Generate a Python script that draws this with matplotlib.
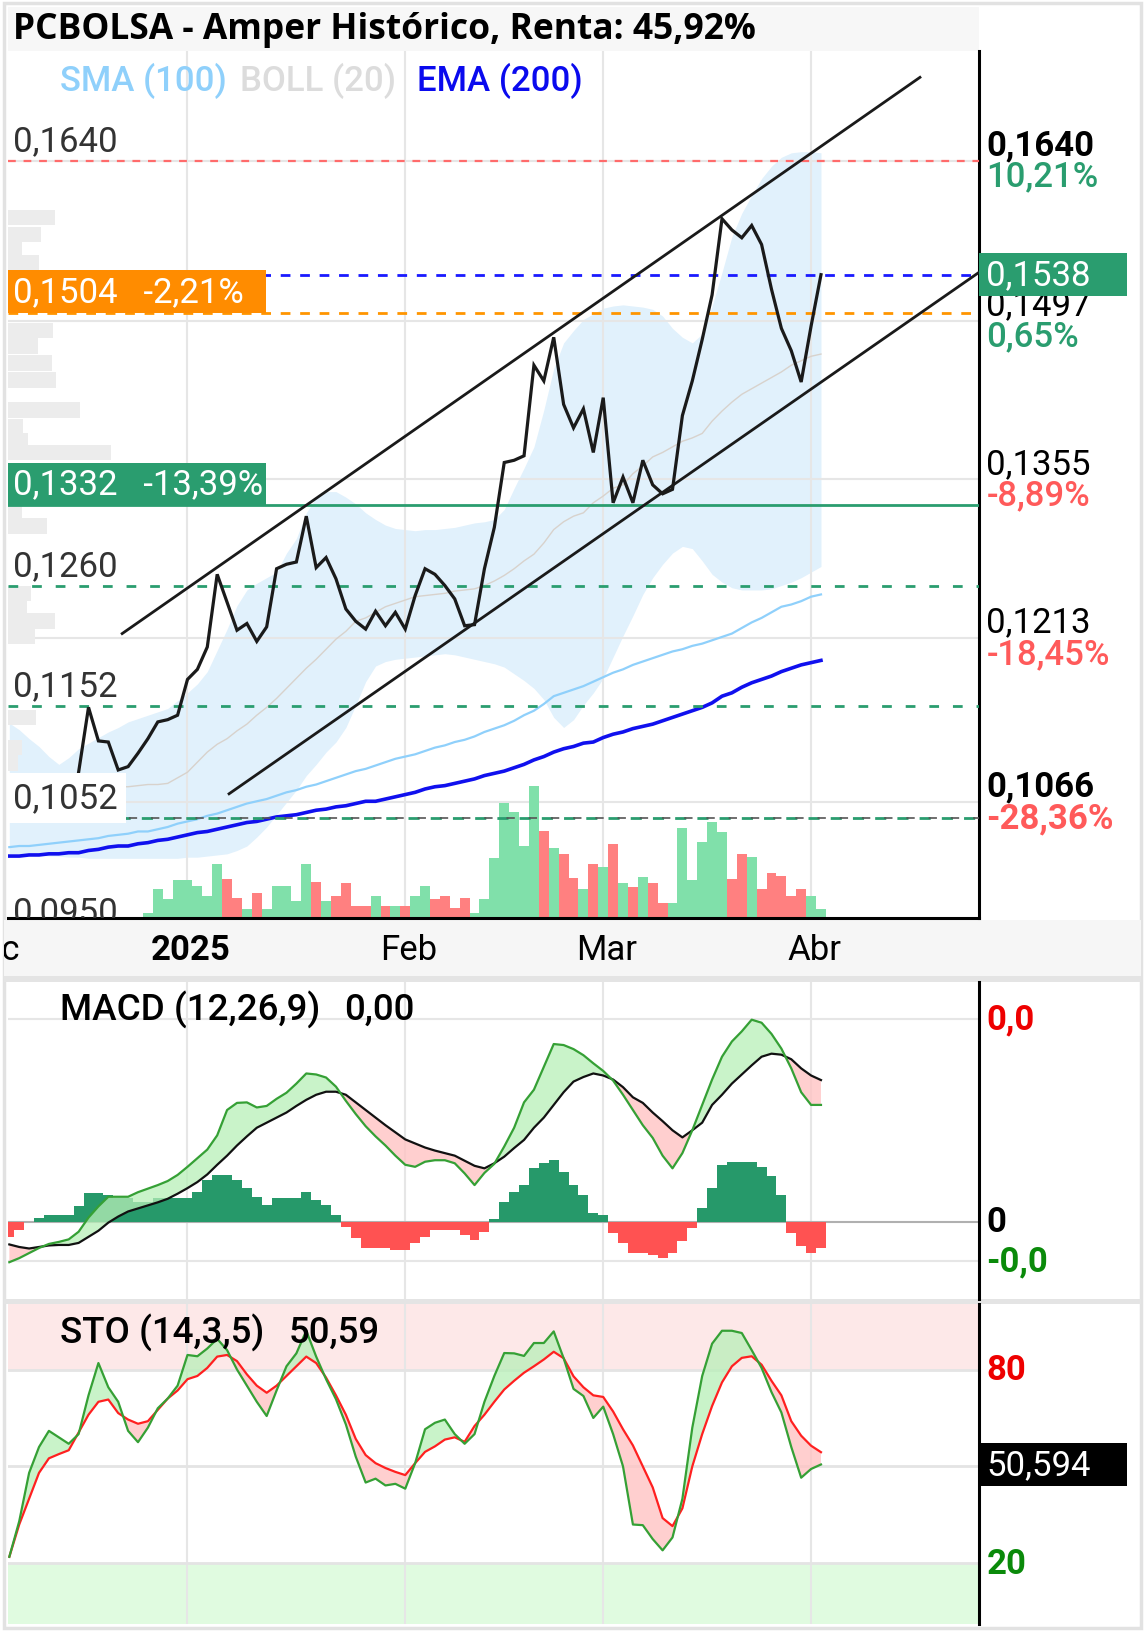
import numpy as np
import matplotlib
matplotlib.use("Agg")
import matplotlib.pyplot as plt
from matplotlib.patches import Rectangle
from matplotlib.transforms import blended_transform_factory as blend

plt.rcParams['font.family'] = ['Roboto', 'DejaVu Sans']

# ---- datos (sesion 0 = 2 ene 2025) ----
first_bar = -18          # primera sesion visible (indicadores)
close_first = -11        # primera sesion con cierre dibujado
vol_first = -4           # primera sesion con volumen

close = [0.1093, 0.1151, 0.1121, 0.1120, 0.1095, 0.1098, 0.1110, 0.1123, 0.1138, 0.1140,
         0.1144, 0.1176, 0.1185, 0.1205, 0.1270, 0.1245, 0.1220, 0.1226, 0.1210, 0.1223,
         0.1275, 0.1279, 0.1281, 0.1322, 0.1276, 0.1285, 0.1266, 0.1239, 0.1228, 0.1221,
         0.1237, 0.1224, 0.1236, 0.1221, 0.1251, 0.1275, 0.1270, 0.1260, 0.1248, 0.1224,
         0.1225, 0.1275, 0.1312, 0.1370, 0.1372, 0.1376, 0.1457, 0.1443, 0.1482, 0.1422,
         0.1401, 0.1418, 0.1379, 0.1428, 0.1334, 0.1357, 0.1334, 0.1372, 0.1350, 0.1342,
         0.1346, 0.1412, 0.1443, 0.1480, 0.1520, 0.1588, 0.1578, 0.1571, 0.1582, 0.1565,
         0.1525, 0.1490, 0.1470, 0.1442, 0.1492, 0.1538]

volume = [0.15, 0.85, 0.55, 1.12,
          1.12, 0.95, 0.65, 1.62, 1.15, 0.58, 0.25, 0.75, 0.25, 0.95,
          0.95, 0.50, 1.62, 1.08, 0.50, 0.65, 1.05, 0.35, 0.35, 0.65,
          0.35, 0.35, 0.35, 0.65, 0.95, 0.55, 0.65, 0.30, 0.58, 0.15,
          0.55, 1.80, 3.45, 3.18, 2.15, 3.95, 2.60, 2.10, 1.92, 1.20,
          0.85, 1.62, 1.52, 2.22, 1.05, 0.92, 1.22, 1.05, 0.45, 0.45,
          2.70, 1.12, 2.28, 2.88, 2.58, 1.15, 1.92, 1.82, 0.85, 1.35,
          1.25, 0.65, 0.85, 0.65, 0.25]

boll_up = [0.1137, 0.1131, 0.1123, 0.1116, 0.1107, 0.1100, 0.1106, 0.1114, 0.1119, 0.1124,
           0.1129, 0.1133, 0.1138, 0.1141, 0.1144, 0.1147, 0.1150, 0.1157, 0.1164, 0.1172,
           0.1183, 0.1202, 0.1221, 0.1242, 0.1256, 0.1262, 0.1267, 0.1272, 0.1289, 0.1302,
           0.1325, 0.1339, 0.1344, 0.1344, 0.1339, 0.1333, 0.1325, 0.1319, 0.1314, 0.1311,
           0.1310, 0.1309, 0.1310, 0.1310, 0.1311, 0.1312, 0.1314, 0.1316, 0.1317, 0.1319,
           0.1328, 0.1347, 0.1365, 0.1384, 0.1417, 0.1454, 0.1477, 0.1488, 0.1498, 0.1503,
           0.1508, 0.1510, 0.1511, 0.1510, 0.1509, 0.1507, 0.1501, 0.1490, 0.1482, 0.1477,
           0.1485, 0.1510, 0.1540, 0.1572, 0.1593, 0.1609, 0.1624, 0.1635, 0.1643, 0.1647,
           0.1648, 0.1648, 0.1647]

boll_mid = [0.1075, 0.1075, 0.1075, 0.1076, 0.1076, 0.1076, 0.1077, 0.1077, 0.1078, 0.1078,
            0.1079, 0.1080, 0.1080, 0.1081, 0.1082, 0.1082, 0.1083, 0.1088, 0.1093, 0.1102,
            0.1111, 0.1118, 0.1123, 0.1130, 0.1136, 0.1144, 0.1151, 0.1159, 0.1168, 0.1177,
            0.1186, 0.1194, 0.1203, 0.1212, 0.1219, 0.1228, 0.1231, 0.1236, 0.1241, 0.1244,
            0.1247, 0.1250, 0.1251, 0.1252, 0.1253, 0.1255, 0.1256, 0.1257, 0.1260, 0.1264,
            0.1269, 0.1275, 0.1282, 0.1288, 0.1298, 0.1310, 0.1317, 0.1322, 0.1325, 0.1334,
            0.1340, 0.1347, 0.1350, 0.1360, 0.1367, 0.1375, 0.1379, 0.1384, 0.1389, 0.1392,
            0.1396, 0.1407, 0.1416, 0.1424, 0.1431, 0.1436, 0.1441, 0.1446, 0.1451, 0.1457,
            0.1461, 0.1465, 0.1467]

boll_low = [0.1020, 0.1020, 0.1019, 0.1019, 0.1018, 0.1018, 0.1017, 0.1017, 0.1016, 0.1016,
            0.1016, 0.1016, 0.1016, 0.1016, 0.1016, 0.1016, 0.1016, 0.1016, 0.1017, 0.1017,
            0.1018, 0.1019, 0.1020, 0.1023, 0.1027, 0.1035, 0.1044, 0.1055, 0.1066, 0.1077,
            0.1090, 0.1100, 0.1111, 0.1120, 0.1133, 0.1153, 0.1174, 0.1188, 0.1192, 0.1194,
            0.1195, 0.1196, 0.1197, 0.1198, 0.1199, 0.1198, 0.1196, 0.1194, 0.1192, 0.1190,
            0.1187, 0.1181, 0.1175, 0.1168, 0.1158, 0.1142, 0.1133, 0.1140, 0.1153, 0.1164,
            0.1177, 0.1196, 0.1215, 0.1233, 0.1252, 0.1267, 0.1279, 0.1289, 0.1295, 0.1293,
            0.1282, 0.1270, 0.1263, 0.1258, 0.1256, 0.1256, 0.1256, 0.1257, 0.1260, 0.1263,
            0.1267, 0.1272, 0.1277]

sma100 = [0.1026, 0.1027, 0.1027, 0.1028, 0.1029, 0.1030, 0.1031, 0.1032, 0.1033, 0.1034,
          0.1036, 0.1037, 0.1038, 0.1040, 0.1040, 0.1042, 0.1044, 0.1047, 0.1049, 0.1051,
          0.1054, 0.1056, 0.1059, 0.1062, 0.1065, 0.1067, 0.1069, 0.1072, 0.1075, 0.1077,
          0.1080, 0.1082, 0.1085, 0.1088, 0.1091, 0.1094, 0.1096, 0.1099, 0.1102, 0.1105,
          0.1107, 0.1109, 0.1112, 0.1115, 0.1117, 0.1120, 0.1122, 0.1125, 0.1129, 0.1132,
          0.1135, 0.1139, 0.1144, 0.1148, 0.1154, 0.1161, 0.1164, 0.1167, 0.1170, 0.1174,
          0.1178, 0.1182, 0.1185, 0.1189, 0.1192, 0.1195, 0.1198, 0.1201, 0.1203, 0.1206,
          0.1208, 0.1211, 0.1214, 0.1217, 0.1222, 0.1227, 0.1231, 0.1236, 0.1241, 0.1243,
          0.1246, 0.1250, 0.1252]

ema200 = [0.1018, 0.1018, 0.1019, 0.1019, 0.1020, 0.1020, 0.1021, 0.1021, 0.1023, 0.1024,
          0.1026, 0.1027, 0.1027, 0.1029, 0.1030, 0.1032, 0.1033, 0.1035, 0.1037, 0.1039,
          0.1040, 0.1042, 0.1044, 0.1046, 0.1048, 0.1049, 0.1051, 0.1053, 0.1054, 0.1055,
          0.1057, 0.1059, 0.1060, 0.1062, 0.1063, 0.1065, 0.1067, 0.1067, 0.1069, 0.1071,
          0.1073, 0.1075, 0.1078, 0.1080, 0.1081, 0.1083, 0.1085, 0.1087, 0.1090, 0.1092,
          0.1094, 0.1097, 0.1100, 0.1104, 0.1107, 0.1111, 0.1114, 0.1116, 0.1119, 0.1120,
          0.1124, 0.1127, 0.1129, 0.1132, 0.1134, 0.1136, 0.1139, 0.1142, 0.1145, 0.1148,
          0.1151, 0.1155, 0.1161, 0.1164, 0.1169, 0.1173, 0.1176, 0.1179, 0.1183, 0.1186,
          0.1189, 0.1191, 0.1193]

# MACD en milesimas
macd = [-0.80, -0.72, -0.62, -0.52, -0.44, -0.40, -0.35, -0.20, 0.08, 0.30,
        0.49, 0.49, 0.49, 0.58, 0.65, 0.72, 0.80, 0.92, 1.08, 1.25,
        1.42, 1.70, 2.20, 2.34, 2.35, 2.25, 2.28, 2.42, 2.54, 2.72,
        2.92, 2.90, 2.84, 2.66, 2.38, 2.12, 1.88, 1.68, 1.50, 1.30,
        1.12, 1.08, 1.18, 1.21, 1.21, 1.15, 0.95, 0.72, 0.96, 1.14,
        1.48, 1.85, 2.35, 2.60, 3.05, 3.50, 3.48, 3.40, 3.28, 3.12,
        2.97, 2.78, 2.50, 2.20, 1.90, 1.65, 1.30, 1.05, 1.35, 1.80,
        2.30, 2.80, 3.25, 3.55, 3.75, 3.98, 3.92, 3.70, 3.41, 3.02,
        2.55, 2.30, 2.30]
signal = [-0.45, -0.50, -0.53, -0.50, -0.47, -0.46, -0.46, -0.42, -0.30, -0.18,
          -0.02, 0.10, 0.20, 0.26, 0.32, 0.38, 0.45, 0.55, 0.66, 0.78,
          0.93, 1.12, 1.30, 1.50, 1.68, 1.85, 1.95, 2.05, 2.15, 2.28,
          2.40, 2.50, 2.56, 2.56, 2.50, 2.35, 2.20, 2.05, 1.90, 1.76,
          1.62, 1.54, 1.46, 1.40, 1.35, 1.30, 1.20, 1.10, 1.05, 1.15,
          1.28, 1.45, 1.61, 1.85, 2.05, 2.30, 2.55, 2.76, 2.85, 2.92,
          2.88, 2.80, 2.65, 2.45, 2.34, 2.15, 1.98, 1.80, 1.66, 1.80,
          1.95, 2.30, 2.50, 2.72, 2.90, 3.08, 3.25, 3.31, 3.29, 3.20,
          3.02, 2.88, 2.79]
hist = [-0.30, -0.16, 0.00, 0.07, 0.13, 0.13, 0.13, 0.30, 0.56, 0.56,
        0.52, 0.46, 0.46, 0.39, 0.39, 0.46, 0.46, 0.46, 0.46, 0.59,
        0.82, 0.92, 0.92, 0.82, 0.66, 0.49, 0.33, 0.46, 0.46, 0.46,
        0.59, 0.43, 0.33, 0.13, -0.10, -0.33, -0.52, -0.52, -0.52, -0.56,
        -0.56, -0.43, -0.30, -0.16, -0.16, -0.16, -0.26, -0.36, -0.20, 0.05,
        0.39, 0.59, 0.72, 1.05, 1.15, 1.21, 0.98, 0.72, 0.52, 0.16,
        0.13, -0.23, -0.43, -0.62, -0.62, -0.66, -0.72, -0.62, -0.39, -0.13,
        0.26, 0.66, 1.12, 1.18, 1.18, 1.18, 1.08, 0.89, 0.52, -0.23,
        -0.49, -0.62, -0.52]

sto_k = [22.0, 33.0, 48.0, 56.0, 61.0, 59.0, 57.0, 60.0, 72.0, 82.0,
         74.5, 70.0, 61.0, 57.5, 62.0, 68.0, 71.0, 75.0, 84.5, 84.1,
         86.5, 89.5, 86.0, 80.0, 75.0, 70.0, 65.6, 73.5, 81.0, 85.0,
         92.0, 84.0, 77.0, 70.8, 63.0, 53.0, 45.0, 46.2, 44.1, 44.6,
         43.1, 51.0, 61.5, 63.5, 64.5, 60.0, 57.0, 60.0, 70.0, 78.0,
         85.1, 85.0, 84.2, 88.2, 88.2, 91.8, 83.5, 74.0, 71.8, 65.0,
         68.5, 60.0, 50.0, 32.0, 31.8, 27.5, 24.0, 28.0, 40.0, 62.0,
         78.0, 88.0, 92.0, 92.0, 91.3, 86.0, 80.5, 73.0, 66.7, 56.0,
         46.5, 49.2, 50.594]
sto_d = [22.0, 32.0, 40.0, 48.0, 52.5, 53.8, 55.0, 60.5, 66.0, 70.0,
         70.7, 66.5, 64.5, 63.2, 64.0, 67.5, 71.0, 73.5, 77.0, 78.0,
         80.5, 84.0, 84.5, 82.6, 78.5, 75.0, 72.8, 75.0, 78.0, 81.0,
         84.0, 82.0, 77.5, 72.0, 66.0, 58.5, 53.5, 51.0, 49.5, 48.3,
         47.3, 51.0, 54.5, 56.2, 58.3, 59.0, 57.6, 62.5, 66.0, 70.0,
         73.8, 76.5, 79.0, 81.0, 83.1, 85.5, 83.5, 77.9, 74.5, 72.0,
         71.5, 67.0, 61.5, 56.5, 50.0, 43.5, 34.0, 31.5, 37.0, 50.0,
         60.0, 68.7, 76.0, 81.0, 83.6, 84.1, 81.5, 76.5, 72.0, 64.0,
         59.5, 56.4, 54.4]

# perfil de volumen por precio (ancho en % del panel)
vp_price = [0.1589, 0.1574, 0.1560, 0.1549, 0.1488, 0.1474, 0.1459, 0.1444, 0.1417, 0.1402,
            0.1389, 0.1379, 0.1325, 0.1313, 0.1253, 0.1241, 0.1228, 0.1215, 0.1142, 0.1115, 0.1101]
vp_width = [4.8, 3.4, 1.4, 3.2, 4.6, 3.1, 4.5, 4.9, 7.4, 1.5,
            2.0, 10.6, 1.4, 4.0, 2.3, 1.9, 4.8, 2.7, 2.9, 1.4, 1.0]

# canal alcista (sesion, precio)
chan_up_x, chan_up_y = [-6.6, 74.0], [0.1217, 0.17145]
chan_dn_x, chan_dn_y = [4.2, 80.0], [0.10737, 0.15403]

month_bars = [0, 22, 42, 63]
month_labels = ['2025', 'Feb', 'Mar', 'Abr']

grid_prices = [0.1640, 0.1497, 0.1355, 0.1213, 0.1066]
grid_pcts = ['10,21%', '0,65%', '-8,89%', '-18,45%', '-28,36%']
left_levels = [0.1640, 0.1260, 0.1152, 0.1052, 0.0950]
last_price = 0.1538
orange_level, orange_pct = 0.1504, '-2,21%'
green_level, green_pct = 0.1332, '-13,39%'

def es(v, d=4):
    return f"{v:.{d}f}".replace('.', ',')

# ---- layout ----
W, H = 1099.0, 1568.0
def fx(p): return p / W
def fy(p): return 1 - p / H

GREEN = '#2a9d6f'
RED_T = '#ff5a5a'
FS = 25

fig = plt.figure(figsize=(11.45, 16.33), dpi=100)
def band(x0, y0, x1, y1, **kw):
    fig.patches.append(Rectangle((fx(x0), fy(y1)), fx(x1) - fx(x0), (y1 - y0) / H,
                                 transform=fig.transFigure, zorder=-1, **kw))
band(4, 4, 1095, 1564, fill=False, ec='#e2e2e2', lw=2.5)
band(8, 8, 940, 50, fc='#f7f7f7', ec='none')
band(4, 884, 1095, 938, fc='#f6f6f6', ec='none')
band(4, 938, 1095, 944, fc='#e4e4e4', ec='none')
band(4, 1248, 1095, 1253, fc='#e4e4e4', ec='none')

fig.text(fx(12), fy(29), 'PCBOLSA - Amper Histórico, Renta: 45,92%', fontsize=25.5, fontweight='bold',
         family=['Open Sans', 'DejaVu Sans'], va='center', ha='left')
fig.text(fx(58), fy(78), 'SMA (100)', color='#8fd0fb', fontsize=FS, va='center', fontweight='medium')
fig.text(fx(230), fy(78), 'BOLL (20)', color='#dcdcdc', fontsize=FS, va='center', fontweight='medium')
fig.text(fx(400), fy(78), 'EMA (200)', color='#0a0aee', fontsize=FS, va='center', fontweight='medium')

XL = (-18.1, 80.0)
bars = np.arange(first_bar, first_bar + len(sma100))
cbars = np.arange(close_first, close_first + len(close))
vbars = np.arange(vol_first, vol_first + len(volume))

# ---- panel de precio ----
ax = fig.add_axes([fx(8), fy(882), fx(940) - fx(8), (882 - 50) / H])
ax.set_xlim(*XL)
ax.set_ylim(0.0963, 0.1738)
ax.set_xticks([]); ax.set_yticks([])
ax.patch.set_alpha(0)
for s in ['left', 'top']:
    ax.spines[s].set_visible(False)
for s in ['right', 'bottom']:
    ax.spines[s].set_linewidth(2.2)
    ax.spines[s].set_color('black')

ax.fill_between(bars, boll_low, boll_up, color='#e1f1fc', lw=0, zorder=1)
for b in month_bars:
    ax.axvline(b, color='#e6e6e6', lw=1.5, zorder=1.5)
for p in grid_prices:
    ax.axhline(p, color='#e6e6e6', lw=1.5, zorder=1.5)

tx = blend(ax.transAxes, ax.transData)
ax.barh(vp_price, np.array(vp_width) / 100, height=0.0014, left=0, color='#ececec',
        transform=tx, zorder=1.6)

cl = np.array(close)
vcol = []
for b in vbars:
    k = b - close_first
    vcol.append('#80e0aa' if cl[k] >= cl[k - 1] else '#ff8080')
ax.bar(vbars, np.array(volume) / 26.1, width=1.0, bottom=0, color=vcol,
       transform=blend(ax.transData, ax.transAxes), zorder=2)

ax.plot(bars, boll_mid, color='#d8d2cc', lw=1.0, zorder=3)
ax.plot(bars, sma100, color='#8fd0fb', lw=1.6, zorder=3)
ax.plot(bars, ema200, color='#1010ee', lw=2.6, zorder=3)

ax.axhline(0.1640, color='#ff6b6b', lw=1.6, ls=(0, (3.5, 3.5)), zorder=3.5)
ax.axhline(last_price, color='#1a1aff', lw=2, ls=(0, (3.5, 3.5)), zorder=3.5)
ax.axhline(orange_level, color='#ff9500', lw=2, ls=(0, (3.5, 3.5)), zorder=3.5)
ax.axhline(green_level, color=GREEN, lw=2, zorder=3.5)
for p in left_levels[1:3]:
    ax.axhline(p, color=GREEN, lw=2, ls=(0, (3.5, 5)), zorder=3.5)
ax.axhline(left_levels[3], color=GREEN, lw=2, ls=(0, (4, 4)), zorder=3.5)
ax.axhline(left_levels[3], color='#555555', lw=1.2, ls=(7.5, (5, 8.33)), zorder=3.6)

ax.plot(chan_up_x, chan_up_y, color='#1a1a1a', lw=2, zorder=4)
ax.plot(chan_dn_x, chan_dn_y, color='#1a1a1a', lw=2, zorder=4)
ax.plot(cbars, close, color='#1a1a1a', lw=2.3, zorder=5, solid_joinstyle='miter')

for p in left_levels:
    kw = {}
    if p == 0.1052:
        kw['bbox'] = dict(fc='white', ec='none', boxstyle='square,pad=0.25')
    ax.annotate(es(p), (0, p), xycoords=tx, xytext=(3, 14.5), textcoords='offset points',
                fontsize=FS, color='#333333', va='center', ha='left', zorder=6,
                annotation_clip=False, clip_on=True, **kw)

box_w = 247 / 932
for lvl, pct, col in [(orange_level, orange_pct, '#ff8c00'), (green_level, green_pct, GREEN)]:
    ax.add_patch(Rectangle((0, lvl), box_w, 0.0038, transform=tx, fc=col, ec='none', zorder=6))
    ax.annotate(es(lvl) + '   ' + pct, (0, lvl + 0.0019), xycoords=tx, xytext=(3, 0),
                textcoords='offset points', fontsize=FS, color='white', va='center', zorder=7)

# etiquetas del eje derecho
for p, pct in zip(grid_prices, grid_pcts):
    bold = p in (0.1640, 0.1066)
    pc = GREEN if not pct.startswith('-') else RED_T
    ax.annotate(es(p), (1, p), xycoords=tx, xytext=(5, 11.5), textcoords='offset points',
                fontsize=FS, color='black', fontweight='bold' if bold else 'normal',
                va='center', annotation_clip=False)
    ax.annotate(pct, (1, p), xycoords=tx, xytext=(5, -11), textcoords='offset points',
                fontsize=FS, color=pc, fontweight='bold' if p == 0.1066 else 'medium',
                va='center', annotation_clip=False)
ax.add_patch(Rectangle((1, last_price - 0.00195), 142 / 932, 0.0039, transform=tx, fc=GREEN,
                       ec='none', clip_on=False, zorder=8))
ax.annotate(es(last_price), (1, last_price), xycoords=tx, xytext=(5, 0), textcoords='offset points',
            fontsize=FS, color='white', va='center', annotation_clip=False, zorder=9)

# ---- tira de fechas ----
per = (XL[1] - XL[0]) / 932
axd = fig.add_axes([fx(4), fy(938), fx(1095) - fx(4), 50 / H])
axd.set_xlim(XL[0] - 4 * per, XL[1] + 155 * per)
axd.set_ylim(0, 1)
axd.axis('off')
axd.text(XL[0] + 11 * per, 0.5, 'Dic', ha='right', va='center', fontsize=FS, clip_on=True)
for b, lab in zip(month_bars, month_labels):
    axd.text(b + 0.3, 0.5, lab, ha='center', va='center', fontsize=FS,
             fontweight='bold' if lab == '2025' else 'normal')

# ---- MACD ----
m = np.array(macd) * 1e-3
sg = np.array(signal) * 1e-3
hs = np.array(hist) * 1e-3
axm = fig.add_axes([fx(8), fy(1248), fx(940) - fx(8), (1248 - 944) / H])
axm.set_xlim(*XL)
axm.set_ylim(-1.52e-3, 4.72e-3)
axm.set_xticks([]); axm.set_yticks([])
for s in ['left', 'top', 'bottom']:
    axm.spines[s].set_visible(False)
axm.spines['right'].set_linewidth(2.2)
for b in month_bars:
    axm.axvline(b, color='#e6e6e6', lw=1.5, zorder=0.5)
axm.axhline(4.0e-3, color='#e6e6e6', lw=1.5, zorder=0.5)
axm.axhline(-0.78e-3, color='#e6e6e6', lw=1.5, zorder=0.5)
axm.axhline(0, color='#b0b0b0', lw=1.5, zorder=0.6)
axm.bar(bars, hs, width=1.0, color=['#26996a' if v >= 0 else '#ff5252' for v in hs], zorder=1)
axm.fill_between(bars, m, sg, where=m >= sg, interpolate=True, color='#b8f0b8', alpha=0.75, lw=0, zorder=2)
axm.fill_between(bars, m, sg, where=m < sg, interpolate=True, color='#ffc4c4', alpha=0.8, lw=0, zorder=2)
axm.plot(bars, sg, color='#111111', lw=1.6, zorder=3)
axm.plot(bars, m, color='#35a035', lw=1.6, zorder=3)
axm.text((58 - 8) / 932, 0.915, 'MACD (12,26,9)', transform=axm.transAxes, fontsize=26.5,
         va='center', fontweight='medium')
axm.text((330 - 8) / 932, 0.915, '0,00', transform=axm.transAxes, fontsize=26.5, va='center',
         fontweight='medium')
tm = blend(axm.transAxes, axm.transData)
for v, lab, col in [(4.0e-3, '0,0', '#ee0000'), (0, '0', 'black'), (-0.78e-3, '-0,0', '#0a8a0a')]:
    axm.annotate(lab, (1, v), xycoords=tm, xytext=(5, 0), textcoords='offset points', fontsize=FS,
                 color=col, fontweight='bold', va='center', annotation_clip=False)

# ---- Estocastico ----
k = np.array(sto_k)
d = np.array(sto_d)
axs = fig.add_axes([fx(8), fy(1560), fx(940) - fx(8), (1560 - 1253) / H])
axs.set_xlim(*XL)
axs.set_ylim(1.3, 100.3)
axs.set_xticks([]); axs.set_yticks([])
for s in ['left', 'top', 'bottom']:
    axs.spines[s].set_visible(False)
axs.spines['right'].set_linewidth(2.2)
axs.axhspan(80, 100.3, color='#fde8e8', lw=0, zorder=0.2)
axs.axhspan(1.3, 20, color='#e0fbe0', lw=0, zorder=0.2)
for b in month_bars:
    axs.axvline(b, color='#e6e6e6', lw=1.5, zorder=0.5)
for v in [20, 50, 80]:
    axs.axhline(v, color='#e4e4e4', lw=2, zorder=0.5)
axs.fill_between(bars, k, d, where=k >= d, interpolate=True, color='#b8f0b8', alpha=0.75, lw=0, zorder=2)
axs.fill_between(bars, k, d, where=k < d, interpolate=True, color='#ffc4c4', alpha=0.8, lw=0, zorder=2)
axs.plot(bars, d, color='#ff2020', lw=1.6, zorder=3)
axs.plot(bars, k, color='#35a035', lw=1.6, zorder=3)
axs.text((58 - 8) / 932, 0.912, 'STO (14,3,5)', transform=axs.transAxes, fontsize=26.5, va='center',
         zorder=5, fontweight='medium')
axs.text((277 - 8) / 932, 0.912, es(k[-1], 2), transform=axs.transAxes, fontsize=26.5, va='center',
         zorder=5, fontweight='medium')
ts = blend(axs.transAxes, axs.transData)
for v, col in [(80, '#ee0000'), (20, '#0a8a0a')]:
    axs.annotate(str(v), (1, v), xycoords=ts, xytext=(5, 0), textcoords='offset points', fontsize=FS,
                 color=col, fontweight='bold', va='center', annotation_clip=False)
axs.add_patch(Rectangle((1, k[-1] - 6.8), 142 / 932, 13.6, transform=ts, fc='black', ec='none',
                        clip_on=False, zorder=8))
axs.annotate(es(k[-1], 3), (1, k[-1]), xycoords=ts, xytext=(5, 0), textcoords='offset points',
             fontsize=FS, color='white', va='center', annotation_clip=False, zorder=9)

fig.savefig('out.png', dpi=100)
